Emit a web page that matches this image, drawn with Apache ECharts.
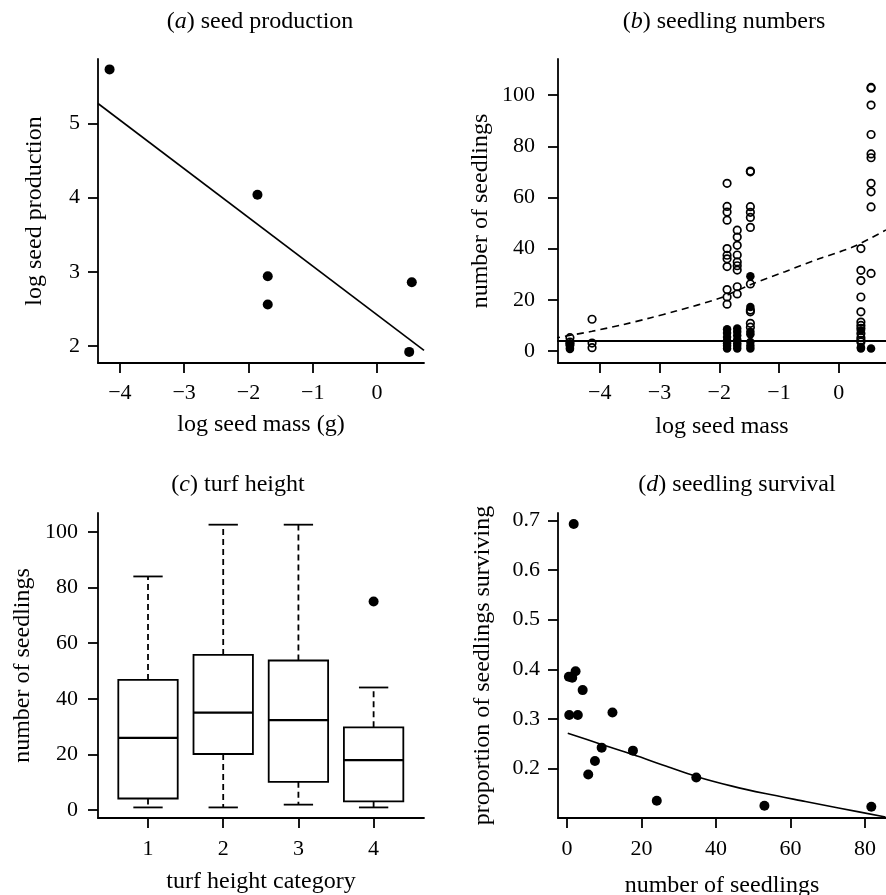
<!DOCTYPE html>
<html>
<head>
<meta charset="utf-8">
<script src="https://cdn.jsdelivr.net/npm/echarts@6.0.0/dist/echarts.min.js"></script>
<style>html,body{margin:0;padding:0;background:#fff;}#c{width:886px;height:895px;}</style>
</head>
<body>
<div id="c"></div>
<script>
// ---------- (a) seed production ----------
const aMass = [-4.16, -1.86, -1.70, -1.70, 0.54, 0.50];
const aProd = [5.73, 4.04, 2.94, 2.56, 2.86, 1.92];
const aFitX = [-4.34, 0.73];
const aFitY = [5.27, 1.94];

// ---------- (b) seedling numbers ----------
const bMassCols = [-4.50, -4.13, -1.87, -1.70, -1.48, 0.37, 0.54];
const bOpen = [
  [5.2, 3.5, 2.5],
  [12.4, 3.1, 1.3],
  [65.5, 56.5, 54.3, 51.1, 40.0, 37.4, 36.0, 33.0, 24.0, 21.1, 18.3],
  [47.2, 44.5, 41.3, 37.5, 34.8, 33.3, 31.6, 25.1, 22.3],
  [70.3, 70.0, 56.4, 54.2, 52.2, 48.3, 26.2, 16.0, 15.3, 10.8, 9.3],
  [40.0, 31.5, 27.5, 21.1, 15.3, 11.3, 10.0, 8.8, 6.8, 5.2, 4.2, 3.5],
  [103.0, 102.7, 96.1, 84.6, 77.0, 75.5, 65.5, 62.2, 56.3, 30.3]
];
const bFilled = [
  [3.0, 2.0, 1.2, 0.8],
  [],
  [8.5, 7.0, 5.5, 4.0, 3.0, 2.0, 1.0],
  [8.8, 7.5, 6.0, 4.5, 3.0, 2.0, 1.0],
  [29.2, 17.2, 7.5, 6.5, 3.5, 2.0, 1.0],
  [8.0, 1.5, 1.0],
  [1.0]
];
const bCurveX = [-4.78, -4.13, -3.61, -3.16, -2.71, -2.0, -1.47, -0.9, -0.32, 0.24, 0.79];
const bCurveY = [4.9, 7.7, 10.3, 12.9, 15.7, 20.6, 26.0, 31.0, 36.1, 40.7, 47.3];
const bLevelX = [-4.95, 0.79];
const bLevelY = [3.9, 3.9];

// ---------- (c) turf height ----------
const cCats = [1, 2, 3, 4];
const cMin = [1.0, 1.0, 2.0, 1.0];
const cQ1 = [4.2, 20.2, 10.2, 3.2];
const cMed = [26.0, 35.1, 32.4, 18.0];
const cQ3 = [46.8, 55.8, 53.8, 29.8];
const cMax = [84.0, 102.6, 102.6, 44.1];
const cOutX = [4];
const cOutY = [75.0];

// ---------- (d) seedling survival ----------
const dN = [1.8, 0.5, 1.4, 2.3, 4.2, 0.6, 2.9, 12.2, 9.3, 7.5, 5.7, 17.7, 24.1, 34.7, 53.0, 81.7];
const dProp = [0.693, 0.385, 0.383, 0.396, 0.358, 0.308, 0.308, 0.313, 0.242, 0.215, 0.188, 0.236, 0.135, 0.182, 0.125, 0.123];
const dFitX = [0.2, 9.3, 17.7, 26.3, 34.9, 44.3, 53.2, 64.0, 72.9, 85.5];
const dFitY = [0.271, 0.2485, 0.228, 0.2055, 0.1835, 0.1645, 0.1495, 0.1335, 0.1205, 0.1023];

// tick labels
const aXTicks = [-4, -3, -2, -1, 0];
const aYTicks = [2, 3, 4, 5];
const bXTicks = [-4, -3, -2, -1, 0];
const bYTicks = [0, 20, 40, 60, 80, 100];
const cXTicks = [1, 2, 3, 4];
const cYTicks = [0, 20, 40, 60, 80, 100];
const dXTicks = [0, 20, 40, 60, 80];
const dYTicks = [0.2, 0.3, 0.4, 0.5, 0.6, 0.7];

const F = 'Liberation Serif';
const INK = '#000';
const LW = 1.8;
const minusFmt = v => (v < 0 ? '\u2212' + Math.abs(v) : String(v));

function axis(kind, gi, min, max, ticks, fmt, margin, name, gap) {
  return {
    type: 'value', gridIndex: gi, min: min, max: max, scale: true,
    splitLine: { show: false },
    axisLine: { show: true, onZero: false, lineStyle: { color: INK, width: LW } },
    axisTick: { show: true, inside: false, length: 10, customValues: ticks, lineStyle: { color: INK, width: LW } },
    axisLabel: { customValues: ticks, formatter: fmt, margin: margin, color: INK, fontFamily: F, fontSize: 22 },
    name: name, nameLocation: 'middle', nameGap: gap,
    nameTextStyle: { color: INK, fontFamily: F, fontSize: 24 }
  };
}

const zip = (xs, ys) => xs.map((x, i) => [x, ys[i]]);
const openData = [], filledData = [];
bMassCols.forEach((m, i) => {
  bOpen[i].forEach(v => openData.push([m, v]));
  bFilled[i].forEach(v => filledData.push([m, v]));
});
const boxData = cCats.map((c, i) => [c, cMin[i], cQ1[i], cMed[i], cQ3[i], cMax[i]]);

function renderBox(params, api) {
  const x = api.value(0);
  const mn = api.value(1), q1 = api.value(2), md = api.value(3), q3 = api.value(4), mx = api.value(5);
  const hw = 0.395, cw = 0.195;
  const P = (xx, yy) => api.coord([xx, yy]);
  const solid = { stroke: INK, lineWidth: LW, fill: null };
  const dashed = { stroke: INK, lineWidth: LW, lineDash: [6, 4], fill: null };
  const seg = (p1, p2, st) => ({ type: 'line', shape: { x1: p1[0], y1: p1[1], x2: p2[0], y2: p2[1] }, style: st });
  const a = P(x - hw, q3), b = P(x + hw, q1);
  return {
    type: 'group',
    children: [
      seg(P(x, q3), P(x, mx), dashed),
      seg(P(x, q1), P(x, mn), dashed),
      seg(P(x - cw, mx), P(x + cw, mx), solid),
      seg(P(x - cw, mn), P(x + cw, mn), solid),
      { type: 'rect', shape: { x: a[0], y: a[1], width: b[0] - a[0], height: b[1] - a[1] }, style: { stroke: INK, lineWidth: LW, fill: '#fff' } },
      seg(P(x - hw, md), P(x + hw, md), { stroke: INK, lineWidth: 2.2 })
    ]
  };
}

const titleText = (letter, rest, x, y) => ({
  type: 'text', x: x, y: y,
  style: {
    text: '({i|' + letter + '}) ' + rest,
    fontFamily: F, fontSize: 24, fill: INK, align: 'center', verticalAlign: 'middle',
    rich: { i: { fontStyle: 'italic', fontFamily: F, fontSize: 24, fill: INK } }
  }
});

const dot = { color: INK, opacity: 1 };

const chart = echarts.init(document.getElementById('c'), null, { renderer: 'canvas' });
chart.setOption({
  animation: false,
  backgroundColor: '#fff',
  graphic: [
    titleText('a', 'seed production', 260, 22),
    titleText('b', 'seedling numbers', 724, 22),
    titleText('c', 'turf height', 238, 485),
    titleText('d', 'seedling survival', 737, 485)
  ],
  grid: [
    { left: 98, top: 59, width: 326, height: 304, outerBoundsMode: 'none', containLabel: false },
    { left: 558, top: 59, width: 328, height: 304, outerBoundsMode: 'none', containLabel: false },
    { left: 98, top: 513, width: 326, height: 305, outerBoundsMode: 'none', containLabel: false },
    { left: 558, top: 513, width: 328, height: 305, outerBoundsMode: 'none', containLabel: false }
  ],
  xAxis: [
    axis('x', 0, -4.34, 0.73, aXTicks, minusFmt, 19, 'log seed mass (g)', 50),
    axis('x', 1, -4.70, 0.79, bXTicks, minusFmt, 19, 'log seed mass', 52),
    axis('x', 2, 0.335, 4.67, cXTicks, v => String(v), 20, 'turf height category', 52),
    axis('x', 3, -2.42, 85.64, dXTicks, v => String(v), 20, 'number of seedlings', 56)
  ],
  yAxis: [
    axis('y', 0, 1.77, 5.87, aYTicks, v => String(v), 18, 'log seed production', 51),
    axis('y', 1, -4.7, 114.1, bYTicks, v => String(v), 23, 'number of seedlings', 65),
    axis('y', 2, -2.8, 106.8, cYTicks, v => String(v), 20, 'number of seedlings', 63),
    axis('y', 3, 0.1002, 0.715, dYTicks, v => v.toFixed(1), 18, 'proportion of seedlings surviving', 63)
  ],
  series: [
    { type: 'line', xAxisIndex: 0, yAxisIndex: 0, data: zip(aFitX, aFitY), symbol: 'none', lineStyle: { color: INK, width: 1.6 }, silent: true },
    { type: 'scatter', xAxisIndex: 0, yAxisIndex: 0, data: zip(aMass, aProd), symbol: 'circle', symbolSize: 10, itemStyle: dot },

    { type: 'line', xAxisIndex: 1, yAxisIndex: 1, data: zip(bCurveX, bCurveY), symbol: 'none', smooth: 0.3, clip: false, lineStyle: { color: INK, width: 1.6, type: [7, 5] }, silent: true },
    { type: 'line', xAxisIndex: 1, yAxisIndex: 1, data: zip(bLevelX, bLevelY), symbol: 'none', clip: false, lineStyle: { color: INK, width: 1.9 }, silent: true },
    { type: 'scatter', xAxisIndex: 1, yAxisIndex: 1, data: openData, symbol: 'circle', symbolSize: 7.5, itemStyle: { color: 'rgba(255,255,255,0)', borderColor: INK, borderWidth: 1.7, opacity: 1 } },
    { type: 'scatter', xAxisIndex: 1, yAxisIndex: 1, data: filledData, symbol: 'circle', symbolSize: 8.5, itemStyle: dot },

    { type: 'custom', xAxisIndex: 2, yAxisIndex: 2, data: boxData, renderItem: renderBox, encode: { x: 0, y: [1, 2, 3, 4, 5] } },
    { type: 'scatter', xAxisIndex: 2, yAxisIndex: 2, data: zip(cOutX, cOutY), symbol: 'circle', symbolSize: 10, itemStyle: dot },

    { type: 'line', xAxisIndex: 3, yAxisIndex: 3, data: zip(dFitX, dFitY), symbol: 'none', smooth: 0.3, clip: false, lineStyle: { color: INK, width: 1.6 }, silent: true },
    { type: 'scatter', xAxisIndex: 3, yAxisIndex: 3, data: zip(dN, dProp), symbol: 'circle', symbolSize: 10, itemStyle: dot }
  ]
});
</script>
</body>
</html>
